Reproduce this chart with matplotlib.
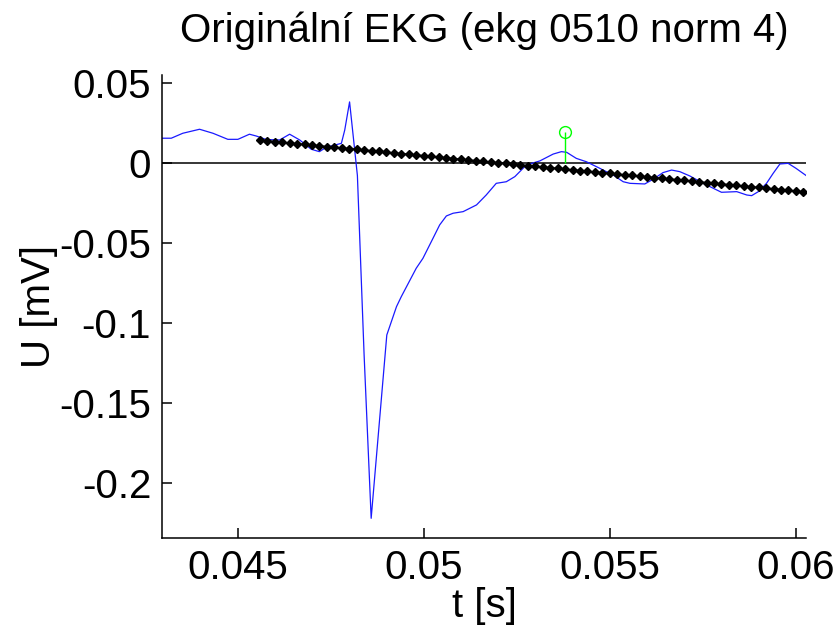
import numpy as np
import matplotlib
matplotlib.use("Agg")
import matplotlib.pyplot as plt

plt.rcParams['font.family'] = ['Liberation Sans', 'DejaVu Sans']

# Blue ECG signal (t [s], U [mV])
ekg_t = [0.04298, 0.04322, 0.04353, 0.04398, 0.04434, 0.04474, 0.04501, 0.04532,
         0.04550, 0.04577, 0.04613, 0.04640, 0.04667, 0.04698, 0.04720, 0.04738,
         0.04779, 0.04788, 0.04801, 0.04822, 0.04840, 0.04859, 0.04880, 0.04901,
         0.04927, 0.04940, 0.04980, 0.04998, 0.05025, 0.05043, 0.05061, 0.05079,
         0.05106, 0.05142, 0.05168, 0.05195, 0.05222, 0.05245, 0.05276, 0.05312,
         0.05348, 0.05370, 0.05384, 0.05410, 0.05437, 0.05473, 0.05482, 0.05509,
         0.05536, 0.05554, 0.05594, 0.05616, 0.05643, 0.05666, 0.05688, 0.05715,
         0.05751, 0.05778, 0.05800, 0.05841, 0.05868, 0.05881, 0.05899, 0.05921,
         0.05939, 0.05957, 0.05979, 0.06000, 0.06029]
ekg_u = [0.0153, 0.0153, 0.0184, 0.0209, 0.0184, 0.0146, 0.0146, 0.0178,
         0.0167, 0.0145, 0.0142, 0.0178, 0.0142, 0.0084, 0.0069, 0.0096,
         0.0121, 0.0204, 0.0380, -0.0080, -0.1200, -0.2223, -0.1650, -0.1077,
         -0.0900, -0.0837, -0.0660, -0.0598, -0.0473, -0.0389, -0.0333, -0.0316,
         -0.0306, -0.0264, -0.0202, -0.0129, -0.0119, -0.0087, -0.0014, 0.0011,
         0.0054, 0.0069, 0.0065, 0.0027, 0.0006, -0.0035, -0.0046, -0.0077,
         -0.0119, -0.0129, -0.0133, -0.0104, -0.0062, -0.0046, -0.0056, -0.0083,
         -0.0129, -0.0160, -0.0185, -0.0181, -0.0202, -0.0206, -0.0181, -0.0129,
         -0.0066, -0.0008, -0.0004, -0.0035, -0.0083]

# Black trend (sampled every 0.2 ms starting at 0.0456 s)
trend_start = 0.0456
trend_step = 0.0002
trend_u = [0.0141, 0.0137, 0.0132, 0.0128, 0.0123, 0.0119, 0.0114, 0.0110,
           0.0106, 0.0101, 0.0097, 0.0092, 0.0088, 0.0084, 0.0079, 0.0075,
           0.0070, 0.0066, 0.0061, 0.0057, 0.0053, 0.0048, 0.0044, 0.0039,
           0.0035, 0.0031, 0.0026, 0.0022, 0.0017, 0.0013, 0.0008, 0.0004,
           0.0000, -0.0005, -0.0009, -0.0014, -0.0018, -0.0023, -0.0027, -0.0031,
           -0.0036, -0.0040, -0.0045, -0.0049, -0.0053, -0.0058, -0.0062, -0.0067,
           -0.0071, -0.0076, -0.0080, -0.0084, -0.0089, -0.0093, -0.0098, -0.0102,
           -0.0106, -0.0111, -0.0115, -0.0120, -0.0124, -0.0129, -0.0133, -0.0137,
           -0.0142, -0.0146, -0.0151, -0.0155, -0.0159, -0.0164, -0.0168, -0.0173,
           -0.0177, -0.0182]

# Green stem
stem_t = [0.0538]
stem_u = [0.019]

xticks = [0.045, 0.05, 0.055, 0.06]
xtick_labels = ['0.045', '0.05', '0.055', '0.06']
yticks = [0.05, 0, -0.05, -0.1, -0.15, -0.2]
ytick_labels = ['0.05', '0', '-0.05', '-0.1', '-0.15', '-0.2']

trend_t = trend_start + trend_step * np.arange(len(trend_u))

fig = plt.figure(figsize=(8.38, 6.31), dpi=100)
ax = fig.add_axes([0.1937, 0.1469, 0.7681, 0.7342])

ax.axhline(0, color='black', lw=1.1, zorder=1)
ax.plot(ekg_t, ekg_u, color='#1a1aff', lw=0.9, zorder=2)
ax.plot(trend_t, trend_u, color='black', lw=1.0, marker='D', markersize=4.2,
        markerfacecolor='black', markeredgecolor='black', zorder=3)
ml, sl, bl = ax.stem(stem_t, stem_u, linefmt='-', markerfmt='o', basefmt=' ')
plt.setp(sl, color='#00ff00', lw=1.0)
plt.setp(ml, color='#00ff00', markerfacecolor='none', markersize=8.5, mew=1.0)

ax.set_xlim(0.04298, 0.06027)
ax.set_ylim(-0.2348, 0.0548)

ax.spines['top'].set_visible(False)
ax.spines['right'].set_visible(False)
for s in ['left', 'bottom']:
    ax.spines[s].set_linewidth(1.1)

ax.set_xticks(xticks)
ax.set_xticklabels(xtick_labels)
ax.set_yticks(yticks)
ax.set_yticklabels(ytick_labels)
ax.tick_params(direction='in', length=7, width=1.1, labelsize=29, pad=8)

ax.set_xlabel('t [s]', fontsize=29, labelpad=0)
ax.set_ylabel('U [mV]', fontsize=29, labelpad=1)
ax.set_title('Originální EKG (ekg 0510 norm 4)', fontsize=29, pad=24)

fig.savefig('out.png', dpi=100)
